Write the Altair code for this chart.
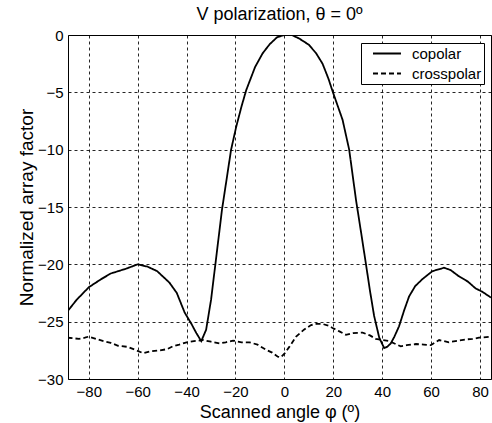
import altair as alt
import pandas as pd

# Copolar pattern (angle in degrees, normalized array factor in dB)
co_x = [-88.7, -85, -80, -75, -71, -65, -60, -56, -52, -47, -44, -40.8, -38, -36, -34, -32, -30, -28,
        -25.5, -24.5, -21.8, -19.7, -17.5, -15.6, -12, -8.9, -6, -3, 0, 3, 6, 10, 13, 15.6, 18, 19.7,
        22, 23.8, 26.5, 29.3, 31.5, 33.3, 35, 36.7, 38.8, 40.8, 42, 43.5, 45, 46.9, 49, 51, 53.5, 56.4,
        60.5, 65.3, 68, 71.4, 75, 78.2, 81, 84.5]
co_y = [-24.1, -23.1, -22.0, -21.3, -20.8, -20.4, -20.0, -20.2, -20.6, -21.6, -22.5, -24.2, -25.2, -26.0,
        -26.7, -25.7, -23.1, -19.6, -15.2, -13.8, -10.0, -8.0, -6.2, -4.8, -2.8, -1.6, -0.8, -0.2, 0, 0,
        -0.3, -0.85, -1.6, -2.5, -3.8, -4.9, -6.3, -7.4, -10.0, -14.4, -17.4, -19.9, -22.3, -24.5, -26.4,
        -27.3, -27.2, -26.9, -26.3, -25.4, -24.0, -22.8, -21.9, -21.3, -20.6, -20.3, -20.5, -21.05, -21.5,
        -22.1, -22.4, -22.9]

# Crosspolar pattern
cx_x = [-88.7, -84, -81.6, -80, -77, -74, -71, -68, -64, -60.5, -57.8, -55, -51, -48, -45.6, -43, -40, -37,
        -33.3, -30, -26.5, -24, -21, -17.5, -14.3, -11, -7.5, -5, -2.7, -1.5, 0, 2, 4.8, 8, 10.9, 13, 15.6,
        18, 19.7, 22.5, 25.2, 28, 32, 35, 37.4, 40, 42.9, 45, 47.6, 50, 53.8, 57, 59.9, 63.3, 67.3, 71,
        74.2, 77, 79.6, 84.5]
cx_y = [-26.4, -26.5, -26.4, -26.3, -26.5, -26.7, -26.85, -27.1, -27.2, -27.5, -27.75, -27.6, -27.5, -27.4,
        -27.15, -27.0, -26.8, -26.7, -26.6, -26.75, -26.9, -26.8, -26.65, -26.8, -26.8, -27.0, -27.45, -27.7,
        -28.05, -28.1, -27.8, -27.2, -26.3, -25.7, -25.3, -25.2, -25.2, -25.35, -25.55, -25.85, -26.15, -26.0,
        -25.95, -26.2, -26.5, -26.6, -26.7, -26.9, -27.15, -27.05, -26.95, -27.0, -27.05, -26.6, -26.8,
        -26.65, -26.55, -26.5, -26.4, -26.3]

series = ["copolar", "crosspolar"]
x_ticks = [-80, -60, -40, -20, 0, 20, 40, 60, 80]
y_ticks = [-30, -25, -20, -15, -10, -5, 0]

df = pd.concat([
    pd.DataFrame({"phi": co_x, "af": co_y, "series": series[0], "order": range(len(co_x))}),
    pd.DataFrame({"phi": cx_x, "af": cx_y, "series": series[1], "order": range(len(cx_x))}),
])

FONT = "Liberation Sans"

chart = alt.Chart(df).mark_line(clip=True, strokeWidth=1.8, color="black").encode(
    x=alt.X("phi:Q", scale=alt.Scale(domain=[-88.5, 84.5], nice=False, zero=False),
            axis=alt.Axis(values=x_ticks, title="Scanned angle φ (º)", titleY=38,
                          titleBaseline="alphabetic", labelPadding=5, titleFontSize=18)),
    y=alt.Y("af:Q", scale=alt.Scale(domain=[-30, 0], nice=False, zero=False),
            axis=alt.Axis(values=y_ticks, title="Normalized array factor", titleX=-36,
                          titleBaseline="alphabetic", labelPadding=5, titleFontSize=19)),
    strokeDash=alt.StrokeDash("series:N",
                              scale=alt.Scale(domain=series, range=[[1, 0], [5, 3]]),
                              legend=alt.Legend(title=None, orient="none", legendX=293, legendY=8)),
    order="order:Q",
).properties(
    width=423,
    height=344,
    title=alt.TitleParams("V polarization, θ = 0º", font=FONT, fontSize=18, fontWeight="normal",
                          color="black", anchor="middle", offset=4),
    autosize=alt.AutoSizeParams(type="none"),
    padding={"left": 68, "top": 35, "right": 1, "bottom": 44},
).configure_view(
    stroke="black", strokeWidth=1
).configure_axis(
    grid=True, gridColor="black", gridDash=[3, 3], gridOpacity=0.85, gridWidth=1,
    domain=False, ticks=False,
    labelFont=FONT, labelFontSize=15, labelColor="black",
    titleFont=FONT, titleFontWeight="normal", titleColor="black",
).configure_legend(
    strokeColor="black", fillColor="white", padding=2, cornerRadius=0,
    symbolType="M0.2,0L3.93,0", symbolStrokeColor="black", symbolFillColor="transparent",
    symbolStrokeWidth=1.8, symbolSize=225,
    labelFont=FONT, labelFontSize=15, labelColor="black", labelOffset=32, rowPadding=3,
)

chart.save("out.html", embed_options={"renderer": "svg", "actions": False})
